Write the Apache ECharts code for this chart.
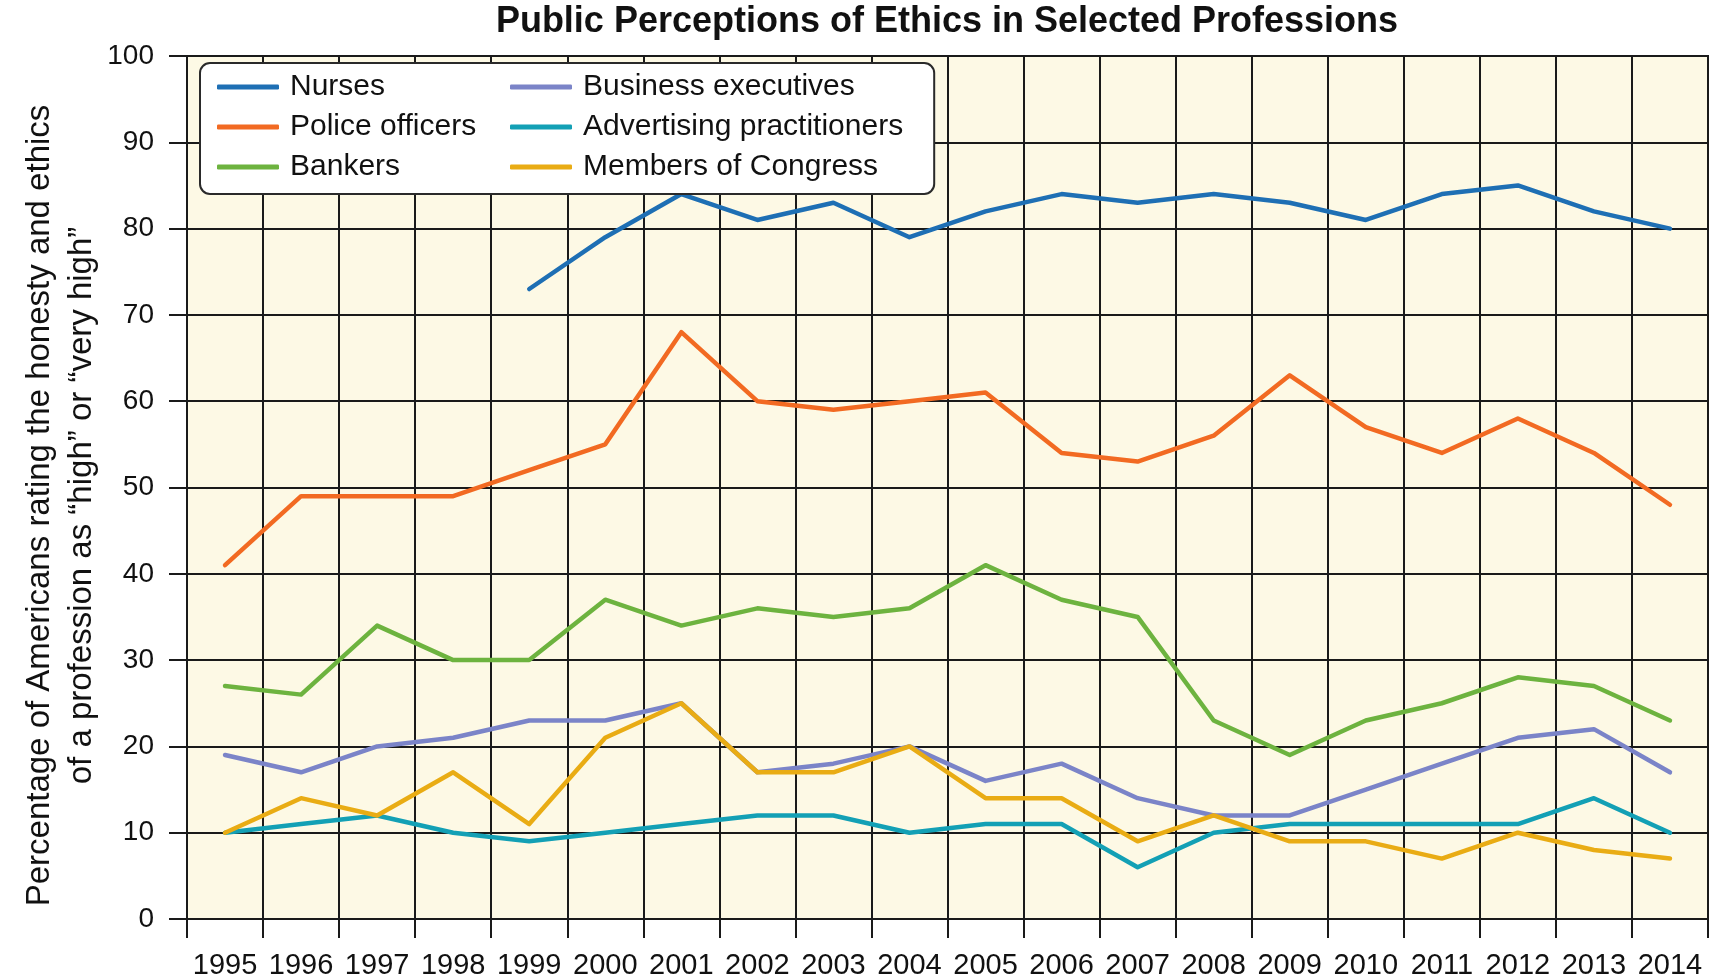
<!DOCTYPE html>
<html>
<head>
<meta charset="utf-8">
<script src="https://cdn.jsdelivr.net/npm/echarts@6/dist/echarts.min.js"></script>
<style>
html,body{margin:0;padding:0;background:#ffffff;}
#chart{width:1715px;height:979px;}
</style>
</head>
<body>
<div id="chart"></div>
<script>
// ---- data ----
const years = ['1995','1996','1997','1998','1999','2000','2001','2002','2003','2004',
               '2005','2006','2007','2008','2009','2010','2011','2012','2013','2014'];
const seriesNames = ['Nurses','Police officers','Bankers','Business executives','Advertising practitioners','Members of Congress'];
const nurses      = [null,null,null,null,73,79,84,81,83,79,82,84,83,84,83,81,84,85,82,80];
const police      = [41,49,49,49,52,55,68,60,59,60,61,54,53,56,63,57,54,58,54,48];
const bankers     = [27,26,34,30,30,37,34,36,35,36,41,37,35,23,19,23,25,28,27,23];
const business    = [19,17,20,21,23,23,25,17,18,20,16,18,14,12,12,15,18,21,22,17];
const advertising = [10,11,12,10,9,10,11,12,12,10,11,11,6,10,11,11,11,11,14,10];
const congress    = [10,14,12,17,11,21,25,17,17,20,14,14,9,12,9,9,7,10,8,7];
const yMin = 0, yMax = 100, yStep = 10;

const colors = ['#1e6fb4','#f26a22','#6db33f','#7b84c8','#13a0b5','#e9ac14'];
const values = [nurses, police, bankers, business, advertising, congress];
const FONT = "'Liberation Sans', Arial, Helvetica, sans-serif";

const chart = echarts.init(document.getElementById('chart'), null, {renderer: 'canvas'});

const legendCommon = {
  orient: 'vertical',
  icon: 'roundRect',
  itemWidth: 62,
  itemHeight: 5,
  itemGap: 10,
  selectedMode: false,
  textStyle: {fontFamily: FONT, fontSize: 30, color: '#111', padding: [0, 0, 0, 6]}
};

const option = {
  animation: false,
  color: colors,
  textStyle: {fontFamily: FONT},
  title: {
    text: 'Public Perceptions of Ethics in Selected Professions',
    left: 947,
    top: 4,
    textAlign: 'center',
    padding: 0,
    textStyle: {fontFamily: FONT, fontSize: 36, fontWeight: 'bold', color: '#111'}
  },
  legend: [
    Object.assign({}, legendCommon, {
      data: seriesNames.slice(0, 3),
      left: 200,
      top: 63,
      padding: [9, 458, 12, 17],
      backgroundColor: '#ffffff',
      borderColor: '#2a2a2a',
      borderWidth: 2,
      borderRadius: 10,
      z: 4
    }),
    Object.assign({}, legendCommon, {
      data: seriesNames.slice(3),
      left: 510,
      top: 72,
      padding: 0,
      z: 6
    })
  ],
  grid: {
    left: 187,
    right: 7,
    top: 56,
    bottom: 60,
    show: true,
    backgroundColor: '#fdf9e5',
    borderColor: '#1a1a1a',
    borderWidth: 2,
    containLabel: false,
    outerBoundsMode: 'none'
  },
  xAxis: {
    type: 'category',
    data: years,
    boundaryGap: true,
    axisLine: {show: true, lineStyle: {color: '#1a1a1a', width: 2}},
    axisTick: {show: true, inside: false, length: 19, interval: 0, lineStyle: {color: '#1a1a1a', width: 2}},
    axisLabel: {interval: 0, margin: 32, fontSize: 29, color: '#111', fontFamily: FONT},
    splitLine: {show: true, interval: 0, lineStyle: {color: '#1a1a1a', width: 2}}
  },
  yAxis: {
    type: 'value',
    min: yMin,
    max: yMax,
    interval: yStep,
    name: 'Percentage of Americans rating the honesty and ethics\nof a profession as \u201chigh\u201d or \u201cvery high\u201d',
    nameLocation: 'middle',
    nameGap: 84,
    nameMoveOverlap: false,
    nameTextStyle: {fontFamily: FONT, fontSize: 33, lineHeight: 42, color: '#111', padding: [0, 36, 0, 0]},
    axisLine: {show: true, lineStyle: {color: '#1a1a1a', width: 2}},
    axisTick: {show: true, inside: false, length: 18, lineStyle: {color: '#1a1a1a', width: 2}},
    axisLabel: {margin: 33, fontSize: 28, color: '#111', fontFamily: FONT},
    splitLine: {show: true, lineStyle: {color: '#1a1a1a', width: 2}}
  },
  series: seriesNames.map((n, i) => ({
    name: n,
    type: 'line',
    data: values[i],
    showSymbol: false,
    symbol: 'none',
    connectNulls: false,
    lineStyle: {width: 4.5, color: colors[i], join: 'round', cap: 'round'},
    itemStyle: {color: colors[i]},
    z: 3
  }))
};

chart.setOption(option);
</script>
</body>
</html>
